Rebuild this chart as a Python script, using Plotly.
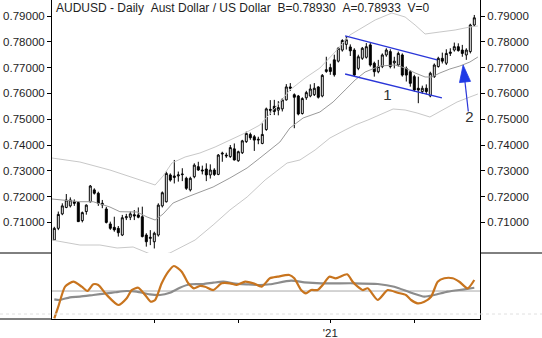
import plotly.graph_objects as go

# ---------------- data ----------------
opens = [0.7032,0.7077,0.7133,0.7158,0.7164,0.7180,0.7177,0.7107,0.7142,0.7180,
         0.7226,0.7213,0.7168,0.7152,0.7094,0.7081,0.7077,0.7051,0.7118,0.7120,
         0.7130,0.7129,0.7122,0.7051,0.7038,0.7025,0.7051,0.7164,0.7180,0.7284,
         0.7274,0.7280,0.7285,0.7271,0.7226,0.7277,0.7316,0.7303,0.7307,0.7284,
         0.7303,0.7286,0.7365,0.7361,0.7355,0.7385,0.7339,0.7370,0.7413,0.7441,
         0.7432,0.7419,0.7406,0.7460,0.7538,0.7550,0.7535,0.7540,0.7575,0.7625,
         0.7595,0.7590,0.7522,0.7583,0.7590,0.7595,0.7625,0.7590,0.7685,0.7700,
         0.7730,0.7725,0.7768,0.7790,0.7780,0.7768,0.7697,0.7736,0.7740,0.7788,
         0.7717,0.7684,0.7704,0.7749,0.7762,0.7718,0.7710,0.7749,0.7697,0.7684,
         0.7665,0.7620,0.7607,0.7620,0.7590,0.7665,0.7704,0.7736,0.7717,0.7755,
         0.7768,0.7781,0.7768,0.7749,0.7762,0.7865]
highs = [0.7083,0.7142,0.7174,0.7210,0.7197,0.7189,0.7180,0.7142,0.7170,0.7245,
         0.7232,0.7219,0.7187,0.7160,0.7103,0.7122,0.7086,0.7129,0.7133,0.7142,
         0.7148,0.7158,0.7161,0.7058,0.7070,0.7064,0.7174,0.7220,0.7297,0.7290,
         0.7342,0.7297,0.7310,0.7277,0.7277,0.7329,0.7335,0.7320,0.7329,0.7325,
         0.7310,0.7365,0.7374,0.7370,0.7400,0.7406,0.7378,0.7420,0.7452,0.7448,
         0.7439,0.7432,0.7484,0.7545,0.7574,0.7575,0.7570,0.7582,0.7636,0.7640,
         0.7600,0.7594,0.7585,0.7610,0.7635,0.7640,0.7628,0.7675,0.7742,0.7715,
         0.7750,0.7780,0.7810,0.7822,0.7790,0.7775,0.7750,0.7780,0.7795,0.7795,
         0.7723,0.7730,0.7755,0.7775,0.7771,0.7742,0.7762,0.7755,0.7704,0.7690,
         0.7672,0.7665,0.7630,0.7635,0.7684,0.7716,0.7742,0.7758,0.7771,0.7775,
         0.7797,0.7794,0.7788,0.7775,0.7870,0.7904]
lows  = [0.7028,0.7070,0.7128,0.7155,0.7158,0.7164,0.7103,0.7100,0.7130,0.7177,
         0.7208,0.7164,0.7155,0.7096,0.7071,0.7064,0.7045,0.7047,0.7109,0.7109,
         0.7109,0.7116,0.7042,0.7006,0.7012,0.6999,0.7045,0.7158,0.7177,0.7258,
         0.7251,0.7258,0.7260,0.7226,0.7220,0.7271,0.7300,0.7286,0.7260,0.7270,
         0.7280,0.7283,0.7335,0.7350,0.7350,0.7340,0.7335,0.7365,0.7408,0.7420,
         0.7377,0.7403,0.7403,0.7455,0.7516,0.7516,0.7515,0.7530,0.7572,0.7610,
         0.7465,0.7515,0.7518,0.7575,0.7585,0.7590,0.7580,0.7585,0.7680,0.7672,
         0.7665,0.7720,0.7762,0.7770,0.7745,0.7667,0.7690,0.7730,0.7735,0.7704,
         0.7665,0.7678,0.7698,0.7742,0.7697,0.7697,0.7704,0.7665,0.7646,0.7626,
         0.7607,0.7562,0.7598,0.7596,0.7585,0.7660,0.7700,0.7716,0.7710,0.7745,
         0.7762,0.7762,0.7742,0.7730,0.7755,0.7858]
closes = [0.7077,0.7131,0.7164,0.7187,0.7187,0.7174,0.7103,0.7138,0.7167,0.7241,
          0.7213,0.7174,0.7174,0.7100,0.7077,0.7071,0.7060,0.7118,0.7122,0.7133,
          0.7125,0.7120,0.7045,0.7025,0.7042,0.7058,0.7167,0.7215,0.7290,0.7264,
          0.7280,0.7284,0.7287,0.7232,0.7271,0.7322,0.7303,0.7300,0.7284,0.7303,
          0.7286,0.7361,0.7368,0.7358,0.7390,0.7342,0.7374,0.7416,0.7445,0.7428,
          0.7419,0.7422,0.7441,0.7540,0.7535,0.7530,0.7545,0.7575,0.7625,0.7620,
          0.7585,0.7520,0.7580,0.7603,0.7617,0.7620,0.7585,0.7670,0.7692,0.7685,
          0.7672,0.7775,0.7805,0.7808,0.7765,0.7671,0.7742,0.7775,0.7781,0.7710,
          0.7684,0.7704,0.7749,0.7768,0.7704,0.7725,0.7755,0.7671,0.7671,0.7639,
          0.7613,0.7613,0.7620,0.7607,0.7678,0.7710,0.7736,0.7725,0.7755,0.7760,
          0.7781,0.7766,0.7755,0.7768,0.7865,0.7893]
bar_index = list(range(len(closes)))

# Bollinger-style bands (bar index, price)
upper_x = [-0.6,6.4,13.9,21.4,25.2,27.2,29.4,32.7,36.4,40.2,43.9,47.7,51.4,55.2,58.9,62.7,66.4,70.2,73.9,76.9,80.2,84.4,87.7,90.2,92.7,96.4,100.2,103.9,105.9]
upper_y = [0.73496,0.73341,0.73031,0.72643,0.72450,0.72798,0.73302,0.73535,0.73690,0.73922,0.74194,0.74465,0.74775,0.75434,0.76132,0.76597,0.76984,0.77605,0.78264,0.78535,0.78845,0.79116,0.78961,0.78651,0.78302,0.78380,0.78457,0.78574,0.78612]
mid_x = [-0.6,6.4,9.7,13.9,16.4,20.7,23.2,25.2,27.2,29.7,33.2,36.4,39.7,43.9,48.2,51.4,56.4,58.9,62.2,66.4,69.7,72.7,75.2,77.7,81.4,85.2,87.7,90.2,92.7,94.4,96.4,98.9,101.4,103.9,105.9]
mid_y = [0.71907,0.71802,0.71802,0.71597,0.71415,0.71403,0.71209,0.71093,0.71326,0.71752,0.71984,0.72178,0.72372,0.72721,0.73109,0.73496,0.74116,0.74659,0.75047,0.75279,0.75667,0.76132,0.76519,0.76829,0.77062,0.77101,0.76984,0.76791,0.76636,0.76636,0.76791,0.76946,0.77062,0.77217,0.77411]
lower_x = [-0.6,3.2,6.4,11.4,15.7,19.7,22.7,25.2,28.9,31.4,35.2,39.7,43.9,48.2,52.7,58.2,60.2,61.4,65.2,68.9,72.7,75.2,78.4,81.4,84.7,87.7,90.7,93.9,97.2,100.7,103.9,105.9]
lower_y = [0.70318,0.70202,0.70124,0.70124,0.70008,0.70047,0.69853,0.69698,0.69814,0.70008,0.70318,0.70899,0.71481,0.71984,0.72643,0.73302,0.73380,0.73419,0.73806,0.74271,0.74581,0.74775,0.74969,0.75163,0.75395,0.75357,0.75240,0.75085,0.75357,0.75667,0.75860,0.75977]

# oscillator panel
osc_x = [0,1,2.7,4.75,6.85,8.25,9.75,11,13.1,16,18.1,19.35,21,22.7,24.1,25.2,26.85,28.5,29.9,31.85,33.5,34.9,36.4,37.7,39.75,41.85,43.9,45.6,47.7,49.75,51.85,53.9,55.85,58.75,60,61.7,62.9,64.2,65.85,67.1,68.75,70.4,73.2,74.6,75.85,77.1,78.35,80.85,83.35,85.85,87.9,89.2,90.85,92.5,94.2,95.85,97.5,99.6,101.25,103.35,105]
osc_y = [1,18.6,49,56.5,49,42.4,52.6,51.5,36.4,21.2,31.4,43.9,47.4,36.4,26.2,28.8,54.1,71.7,80.3,71.7,54.1,46.5,50,48.9,43.9,54.1,54.1,51.5,56.5,54.1,49,61.7,64.1,66.7,61.7,43.9,38.9,43.9,43.9,51.5,64.1,61.7,67.7,56.5,49,43.9,46.5,28.8,43.9,39.8,36.4,28.8,23.8,26.2,33.8,56.5,61.7,61.7,56.5,46.5,59.1]
sig_x = [0,1.4,3.9,6.4,9.75,13.1,15.2,18.1,20.6,23.9,26.4,28.9,31.4,33.9,37.25,39.75,42.25,44.75,48.1,51.4,53.9,59.2,62.5,66.7,75,80.85,85,89.2,92.5,95,98.35,102.5,105]
sig_y = [29.8,28.8,32.9,33.8,36.4,38.9,40.5,42.4,41.4,37.4,36.4,39.8,47.4,52.6,53,55,56.5,54.1,52.6,51.5,52.6,58,55.6,54.1,54.1,53,48.9,39.8,33.8,36.4,41.4,45,47.4]
osc_ref = 42.4

# channel lines, arrow and labels
chan_up_x, chan_up_y = [72.7, 95.7], [0.78225, 0.77295]
chan_lo_x, chan_lo_y = [72.7, 96.9], [0.76752, 0.75822]
arrow_x, arrow_y = [103.5, 102.2], [0.75300, 0.77101]   # tail -> tip
label_text = ["1", "2"]
label_x = [83.3, 103.75]
label_y = [0.75899, 0.75047]
price_ticks = [0.71, 0.72, 0.73, 0.74, 0.75, 0.76, 0.77, 0.78, 0.79]
month_ticks = [25, 46, 69, 90]
month_labels = ["", "", "'21", ""]
title_text = "AUDUSD - Daily  Aust Dollar / US Dollar  B=0.78930  A=0.78933  V=0"

# ---------------- layout geometry ----------------
W, H = 542, 338
XL, XR = 52, 480
Y_MAIN_BOT, Y_OSC_BOT = 253, 319
xdom = [XL / W, XR / W]
main_dom = [(H - Y_MAIN_BOT) / H, 1.0]
osc_dom = [(H - Y_OSC_BOT) / H, (H - Y_MAIN_BOT) / H]
xrange = [-0.575, 106.425]
yrange = [0.69814, 0.79620]

FONT = "Liberation Sans, Arial, sans-serif"
TXT = "#1e1e1e"

fig = go.Figure()

band_light = "#c8c8c8"
fig.add_trace(go.Scatter(x=upper_x, y=upper_y, mode="lines", line=dict(color=band_light, width=1), hoverinfo="skip", xaxis="x", yaxis="y"))
fig.add_trace(go.Scatter(x=lower_x, y=lower_y, mode="lines", line=dict(color=band_light, width=1), hoverinfo="skip", xaxis="x", yaxis="y"))
fig.add_trace(go.Scatter(x=mid_x, y=mid_y, mode="lines", line=dict(color="#9a9a9a", width=1), hoverinfo="skip", xaxis="x", yaxis="y"))

fig.add_trace(go.Candlestick(
    x=bar_index, open=opens, high=highs, low=lows, close=closes,
    increasing=dict(line=dict(color="black", width=1), fillcolor="white"),
    decreasing=dict(line=dict(color="black", width=1), fillcolor="black"),
    whiskerwidth=0, xaxis="x", yaxis="y", hoverinfo="skip"))

blue = "#2a36d8"
fig.add_trace(go.Scatter(x=chan_up_x, y=chan_up_y, mode="lines", line=dict(color=blue, width=1.3), xaxis="x", yaxis="y"))
fig.add_trace(go.Scatter(x=chan_lo_x, y=chan_lo_y, mode="lines", line=dict(color=blue, width=1.3), xaxis="x", yaxis="y"))

# arrow "2": a line with an arrow-shaped marker at its tip
fig.add_trace(go.Scatter(
    x=arrow_x, y=arrow_y, mode="lines+markers", xaxis="x", yaxis="y", hoverinfo="skip",
    line=dict(color=blue, width=1.2),
    marker=dict(symbol=["circle", "arrow"], size=[0, 18], color="#1f3ae6", angleref="previous",
                opacity=1, line=dict(width=0.8, color="#1f3ae6"))))

fig.add_trace(go.Scatter(x=label_x, y=label_y, mode="text", text=label_text, xaxis="x", yaxis="y",
                         textfont=dict(family=FONT, size=15, color="#333333"), hoverinfo="skip"))

# invisible trace to carry the right-hand price axis
fig.add_trace(go.Scatter(x=bar_index, y=closes, mode="lines", line=dict(color="rgba(0,0,0,0)"), hoverinfo="skip", xaxis="x", yaxis="y3"))

# oscillator
fig.add_trace(go.Scatter(x=[xrange[0], xrange[1]], y=[osc_ref, osc_ref], mode="lines", line=dict(color="#a8a8a8", width=1), xaxis="x2", yaxis="y2"))
fig.add_trace(go.Scatter(x=sig_x, y=sig_y, mode="lines", line=dict(color="#8c8c8c", width=2.2, shape="spline", smoothing=0.6), xaxis="x2", yaxis="y2"))
fig.add_trace(go.Scatter(x=osc_x, y=osc_y, mode="lines", line=dict(color="#c8741e", width=2.2, shape="spline", smoothing=0.6), xaxis="x2", yaxis="y2"))

axfont = dict(family=FONT, size=11.5, color=TXT)
fig.update_layout(
    width=W, height=H, margin=dict(l=0, r=0, t=0, b=0),
    paper_bgcolor="white", plot_bgcolor="white", showlegend=False,
    xaxis=dict(domain=xdom, range=xrange, anchor="y", showticklabels=False, ticks="",
               showgrid=False, zeroline=False, showline=False, rangeslider=dict(visible=False)),
    yaxis=dict(domain=main_dom, range=yrange, side="left", showline=True, linecolor="black", linewidth=1,
               ticks="outside", ticklen=4, tickcolor="black", tickvals=price_ticks, tickformat=".5f",
               tickfont=axfont, showgrid=False, zeroline=False),
    yaxis3=dict(overlaying="y", anchor="x", side="right", range=yrange, showline=True, linecolor="black", linewidth=1,
                ticks="outside", ticklen=4, tickcolor="black", tickvals=price_ticks, tickformat=".5f",
                tickfont=axfont, showgrid=False, zeroline=False),
    xaxis2=dict(domain=xdom, range=xrange, anchor="y2", showline=True, linecolor="black", linewidth=1,
                ticks="outside", ticklen=3, tickcolor="black", tickvals=month_ticks, ticktext=month_labels,
                tickfont=axfont, showgrid=False, zeroline=False),
    yaxis2=dict(domain=osc_dom, range=[0, 100], anchor="x2", showline=True, mirror=True, linecolor="black", linewidth=1,
                showticklabels=False, ticks="", showgrid=False, zeroline=False),
)

def py(px):
    return (H - px) / H

shapes = [
    dict(type="line", xref="paper", yref="paper", x0=0, x1=XL / W, y0=py(Y_MAIN_BOT), y1=py(Y_MAIN_BOT), line=dict(color="black", width=1)),
    dict(type="line", xref="paper", yref="paper", x0=XR / W, x1=1, y0=py(Y_MAIN_BOT), y1=py(Y_MAIN_BOT), line=dict(color="black", width=1)),
    dict(type="line", xref="paper", yref="paper", x0=0, x1=XL / W, y0=py(Y_OSC_BOT), y1=py(Y_OSC_BOT), line=dict(color="black", width=1)),
    dict(type="line", xref="paper", yref="paper", x0=0, x1=1, y0=py(314), y1=py(314), line=dict(color="#e0e0e0", width=1, dash="dot")),
]
fig.update_layout(shapes=shapes)

annots = [
    dict(xref="paper", yref="paper", x=54 / W, y=py(8), xanchor="left", yanchor="middle", showarrow=False,
         text=title_text.replace(" ", "\u00a0"), font=dict(family=FONT, size=12, color=TXT)),
]
fig.update_layout(annotations=annots)

fig.write_html("out.html")
